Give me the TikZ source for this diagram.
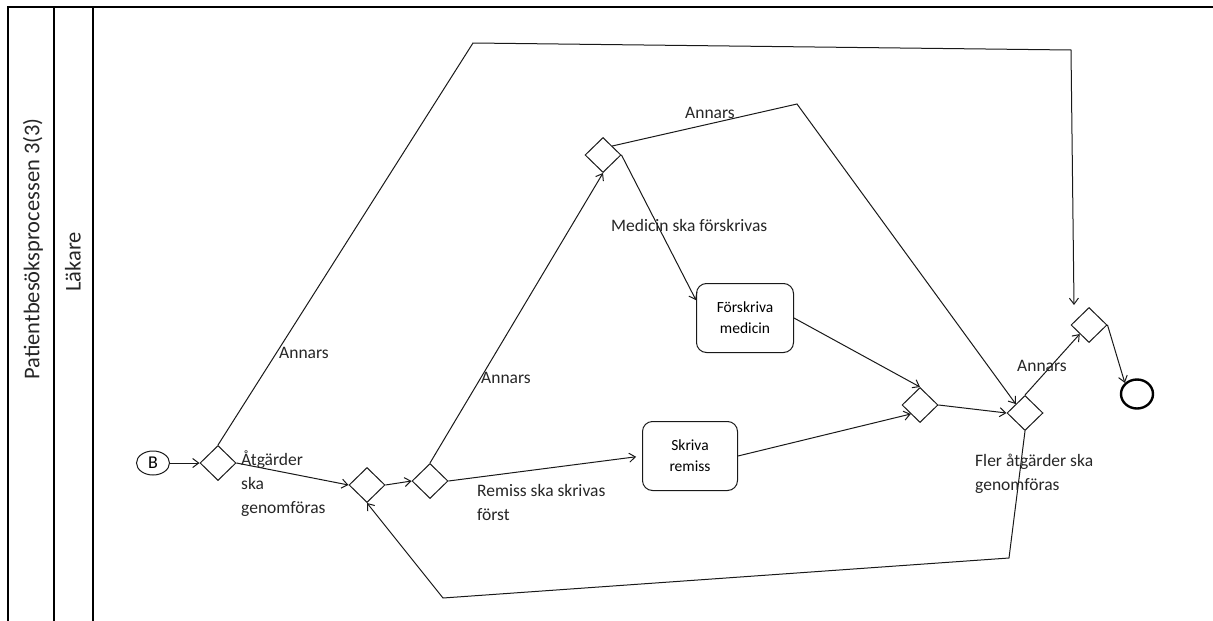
\documentclass[tikz,border=0pt]{standalone}
\usepackage{fontspec}
\setmainfont{Carlito}
\usetikzlibrary{arrows.meta,shapes.geometric}
\begin{document}
\begin{tikzpicture}[x=1pt,y=-1pt,
  flow/.style={draw=black!90, line width=1pt, -{Straight Barb[length=6pt,width=9pt]}},
  gate/.style={diamond, aspect=1, draw=black!90, line width=1pt, minimum width=36pt, minimum height=35pt, inner sep=0pt},
  task/.style={draw=black!90, line width=1pt, rounded corners=10pt, minimum height=69pt, align=center, inner sep=0pt, font=\fontsize{15.5}{21}\selectfont},
  lbl/.style={font=\fontsize{17.5}{24}\selectfont, align=left, inner sep=0pt, anchor=base west, text=black!85},
  lane/.style={rotate=90, font=\fontsize{22.5}{27}\selectfont, inner sep=0pt, text=black!85},
  frame/.style={draw=black, line width=2pt}
]
\useasboundingbox (0,0) rectangle (1213,621);

% pool and lane borders
\draw[frame] (7.5,621) -- (7.5,6.5) -- (1213,6.5);
\draw[frame] (53.5,6.5) -- (53.5,621);
\draw[frame] (92.5,6.5) -- (92.5,621);
\node[lane] (pool) at (33,249) {Patientbesöksprocessen 3(3)};
\node[lane] (lanename) at (73,262) {Läkare};

% events
\node[ellipse, draw=black!90, line width=1pt, minimum width=33pt, minimum height=24pt, inner sep=0pt, font=\fontsize{18}{20}\selectfont] (b) at (153,463) {B};
\node[ellipse, draw=black, line width=2.4pt, minimum width=32pt, minimum height=29pt, inner sep=0pt] (end) at (1137,394) {};

% gateways
\node[gate] (g1) at (218,463) {};
\node[gate] (g2) at (367,485) {};
\node[gate] (g3) at (430,481) {};
\node[gate] (g4) at (603,155) {};
\node[gate] (g5) at (920,405) {};
\node[gate] (g6) at (1025,413) {};
\node[gate] (g7) at (1089,325) {};

% tasks
\node[task, minimum width=97pt] (fm) at (745,318) {Förskriva\\medicin};
\node[task, minimum width=95pt] (sr) at (690,456) {Skriva\\remiss};

% bend points
\coordinate (c1) at (473,43);
\coordinate (c2) at (1071,50);
\coordinate (c3) at (1074,305);
\coordinate (c4) at (797,104);
\coordinate (c5) at (1009,558);
\coordinate (c6) at (443,598);

% sequence flows
\draw[flow] (b) -- (g1.west);
\draw[flow] (g1.east) -- (g2.west);
\draw[flow] (g2.east) -- (g3.west);
\draw[flow, shorten >=6pt] (g3.east) -- (sr.west);
\draw[flow] (g3.north) -- (g4.south);
\draw[flow] (g4.east) -- (fm.160);
\draw[flow] (fm.east) -- (g5.north);
\draw[flow] (sr.east) -- (g5.south west);
\draw[flow] (g5.east) -- (g6.west);
\draw[flow] (g6.north) -- (g7.south west);
\draw[flow] (g7.east) -- (end.north west);
\draw[flow] (g1.north) -- (c1) -- (c2) -- (c3);
\draw[flow] (g4.north east) -- (c4) -- (g6.north west);
\draw[flow] (g6.south) -- (c5) -- (c6) -- (g2.south);

% flow labels (multi-line labels are placed by the baseline of their last line)
\node[lbl] (l1) at (241,513) {Åtgärder\\ska\\genomföras};
\node[lbl] (l2) at (279,358) {Annars};
\node[lbl] (l3) at (481,383) {Annars};
\node[lbl] (l4) at (477,520) {Remiss ska skrivas\\först};
\node[lbl] (l5) at (685,118) {Annars};
\node[lbl] (l6) at (611,231) {Medicin ska förskrivas};
\node[lbl] (l7) at (1017,371) {Annars};
\node[lbl] (l8) at (975,490) {Fler åtgärder ska\\genomföras};
\end{tikzpicture}
\end{document}
